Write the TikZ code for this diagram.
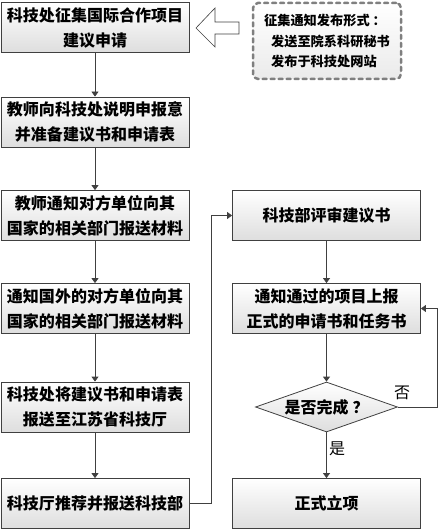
\documentclass[tikz,border=0pt]{standalone}
\usepackage{fontspec}
\newfontfamily\cjk{Noto Sans CJK SC}
\usetikzlibrary{arrows.meta,shapes.geometric}
\definecolor{linegray}{HTML}{404040}
\definecolor{dashgray}{HTML}{7F7F7F}
\tikzset{
  stepbox/.style={draw=linegray,line width=.8bp,top color=white,bottom color=black!13,
    minimum width=188bp,minimum height=50bp,inner sep=0pt,align=center,
    font=\cjk\bfseries\fontsize{16bp}{25bp}\selectfont},
  flow/.style={draw=linegray,line width=.8bp,-{Triangle[length=5bp,width=7bp]}},
}

\begin{document}
\begin{tikzpicture}[x=1bp,y=-1bp]
\useasboundingbox (0,0) rectangle (439,530);
% left column
\node[stepbox] (a1) at (95,27.5) {科技处征集国际合作项目\\建议申请};
\node[stepbox] (a2) at (95,122) {教师向科技处说明申报意\\并准备建议书和申请表};
\node[stepbox] (a3) at (95,215.5) {教师通知对方单位向其\\国家的相关部门报送材料};
\node[stepbox] (a4) at (95,308.5) {通知国外的对方单位向其\\国家的相关部门报送材料};
\node[stepbox] (a5) at (95,407) {科技处将建议书和申请表\\报送至江苏省科技厅};
\node[stepbox] (a6) at (95,503.5) {科技厅推荐并报送科技部};
% right column
\node[stepbox] (b1) at (326.5,215.5) {科技部评审建议书};
\node[stepbox] (b2) at (326.5,308.5) {通知通过的项目上报\\正式的申请书和任务书};
\node[stepbox,diamond,minimum width=142bp,minimum height=50bp,aspect=2.84] (ok) at (326.5,407) {是否完成\hspace{4bp}？};
\node[stepbox] (b3) at (326.5,503.5) {正式立项};
% notice
\node[draw=dashgray,line width=2.5bp,dash pattern=on 4bp off 4bp,line cap=round,rounded corners=5bp,
  top color=white,bottom color=black!8,minimum width=148bp,minimum height=76bp,inner sep=0pt,
  align=left,font=\cjk\bfseries\fontsize{13.2bp}{20.5bp}\selectfont] (note) at (327,41)
  {征集通知发布形式\hspace{3bp}：\\\hspace*{7bp}发送至院系科研秘书\\\hspace*{7bp}发布于科技处网站};
\draw[draw=linegray,line width=.6bp,fill=white] (196,28)--(215,8)--(215,22)--(239,22)--(239,34)--(215,34)--(215,47)--cycle;
% connectors
\draw[flow] (a1)--(a2);
\draw[flow] (a2)--(a3);
\draw[flow] (a3)--(a4);
\draw[flow] (a4)--(a5);
\draw[flow] (a5)--(a6);
\draw[flow] (a6.east)--++(22,0)|-(b1.west);
\draw[flow] (b1)--(b2);
\draw[flow] (b2)--(ok);
\draw[flow] (ok)--(b3);
\draw[flow] (ok.east)--++(39,0)|-(b2.east);
\node[font=\cjk\fontsize{16bp}{18bp}\selectfont] (no) at (402,393) {否};
\node[font=\cjk\fontsize{16bp}{18bp}\selectfont] (yes) at (337,449) {是};
\end{tikzpicture}
\end{document}
